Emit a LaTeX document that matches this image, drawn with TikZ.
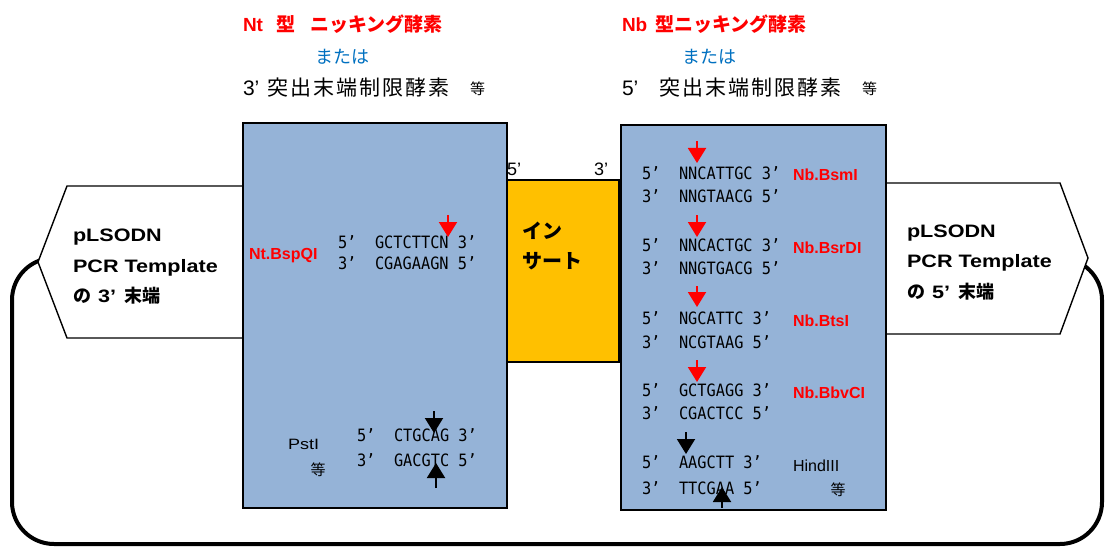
\documentclass[tikz,border=0pt]{standalone}
\usepackage{fontspec}
\setmainfont{Liberation Sans}
\newfontfamily\jp{Noto Sans CJK JP}
\newfontfamily\jpsp[LetterSpace=10]{Noto Sans CJK JP}
\newfontfamily\seqf[FakeStretch=0.9]{DejaVu Sans Mono}
\newfontfamily\wide[FakeStretch=1.2]{Liberation Sans}
\usetikzlibrary{arrows.meta}
\definecolor{boxblue}{RGB}{149,179,215}
\definecolor{insorange}{RGB}{255,192,0}
\definecolor{titleblue}{RGB}{0,112,192}
\newcommand\dnarow[6]{%
  \node[seqtxt] (#1l) at (#2,#3) {#4};
  \node[seqtxt] (#1s) at (#2+37,#3) {#5};
  \node[seqtxt] (#1r) at ([xshift=9.2pt]#1s.base east) {#6};
}
\begin{document}
\begin{tikzpicture}[x=1pt,y=-1pt,
  every node/.style={inner sep=0pt, outer sep=0pt},
  seqtxt/.style={anchor=base west, font=\seqf\fontsize{17}{20}\selectfont},
  enzred/.style={anchor=base west, text=red, font=\bfseries\fontsize{16}{19}\selectfont},
  enzblk/.style={anchor=base west, font=\wide\fontsize{15}{18}\selectfont},
  tosmall/.style={font=\jp\fontsize{15}{18}\selectfont},
  cutmark/.style={line width=2pt, -{Triangle[width=18pt 0,length=15pt 0]}},
  panel/.style={draw, line width=1.6pt, fill=boxblue, anchor=north west},
  pent/.style={draw, line width=1.4pt, fill=white},
  endlab/.style={anchor=base west, font=\wide\bfseries\fontsize{18}{21}\selectfont},
  endjp/.style={anchor=base west, font=\jp\bfseries\fontsize{18}{21}\selectfont},
  redtitle/.style={anchor=base west, text=red, font=\bfseries\fontsize{19}{22}\selectfont},
  redjp/.style={anchor=base west, text=red, font=\jp\bfseries\fontsize{19}{22}\selectfont},
  oretitle/.style={anchor=base west, text=titleblue, font=\jp\fontsize{18}{21}\selectfont},
  blktitle/.style={anchor=base west, font=\jpsp\fontsize{21}{24}\selectfont},
  numtitle/.style={anchor=base west, font=\fontsize{21}{24}\selectfont},
]
\useasboundingbox (0,0) rectangle (1105,548);

% loop (vector backbone)
\draw[line width=4pt, rounded corners=42pt] (12,258) rectangle (1102,544);

% pentagon ends
\draw[pent] (255,186) -- (67,186) -- (38,262) -- (67,338) -- (255,338) -- cycle;
\draw[pent] (875,183) -- (1060,183) -- (1088,258) -- (1060,334) -- (875,334) -- cycle;

% boxes
\node[panel, minimum width=264pt, minimum height=385pt] (lbox) at (243,123) {};
\node[panel, fill=insorange, minimum width=112pt, minimum height=182pt] (ins) at (507,180) {};
\node[panel, minimum width=265pt, minimum height=385pt] (rbox) at (621,125) {};

% titles left
\node[redtitle] (nt) at (243,32) {Nt};
\node[redjp] (ntk) at (276,32) {型};
\node[redjp] (ntn) at (310,32) {ニッキング酵素};
\node[oretitle] (ma1) at (315,64) {または};
\node[numtitle] (t3) at (243,96) {3’};
\node[blktitle] (t3j) at (267,96) {突出末端制限酵素};
\node[tosmall, anchor=base west] (t3t) at (470,95) {等};

% titles right
\node[redtitle] (nb) at (622,32) {Nb};
\node[redjp] (nbk) at (655,32) {型ニッキング酵素};
\node[oretitle] (ma2) at (682,64) {または};
\node[numtitle] (t5) at (622,96) {5’};
\node[blktitle] (t5j) at (659,96) {突出末端制限酵素};
\node[tosmall, anchor=base west] (t5t) at (862,95) {等};

% insert labels
\node[anchor=base west, font=\fontsize{18}{21}\selectfont] (i5) at (507,176) {5’};
\node[anchor=base west, font=\fontsize{18}{21}\selectfont] (i3) at (594,176) {3’};
\node[anchor=base west, font=\jp\bfseries\fontsize{20}{23}\selectfont] (ins1) at (522,238) {イン};
\node[anchor=base west, font=\jp\bfseries\fontsize{20}{23}\selectfont] (ins2) at (522,268) {サート};

% template ends
\node[endlab] (l1) at (73,241) {pLSODN};
\node[endlab] (l2) at (73,272) {PCR Template};
\node[endjp] (l3a) at (73,302) {の};
\node[endlab] (l3b) at (98,302) {3’};
\node[endjp] (l3c) at (124,302) {末端};
\node[endlab] (r1) at (907,237) {pLSODN};
\node[endlab] (r2) at (907,267) {PCR Template};
\node[endjp] (r3a) at (907,298) {の};
\node[endlab] (r3b) at (932,298) {5’};
\node[endjp] (r3c) at (958,298) {末端};

% left panel sequences
\node[enzred] (bsp) at (249,259) {Nt.BspQI};
\dnarow{a}{338}{248}{5’}{GCTCTTCN}{3’}
\dnarow{b}{338}{269}{3’}{CGAGAAGN}{5’}
\node[enzblk] (pst) at (288,449) {PstI};
\node[tosmall] (pstt) at (318,470) {等};
\dnarow{c}{357}{441}{5’}{CTGCAG}{3’}
\dnarow{d}{357}{466}{3’}{GACGTC}{5’}

% right panel sequences
\dnarow{e}{642}{179}{5’}{NNCATTGC}{3’}
\dnarow{f}{642}{203}{3’}{NNGTAACG}{5’}
\node[enzred] (bsm) at (793,181) {Nb.BsmI};
\dnarow{g}{642}{251}{5’}{NNCACTGC}{3’}
\dnarow{h}{642}{274}{3’}{NNGTGACG}{5’}
\node[enzred] (bsr) at (793,253) {Nb.BsrDI};
\dnarow{i}{642}{324}{5’}{NGCATTC}{3’}
\dnarow{j}{642}{348}{3’}{NCGTAAG}{5’}
\node[enzred] (bts) at (793,326) {Nb.BtsI};
\dnarow{k}{642}{396}{5’}{GCTGAGG}{3’}
\dnarow{m}{642}{419}{3’}{CGACTCC}{5’}
\node[enzred] (bbv) at (793,398) {Nb.BbvCI};
\dnarow{n}{642}{468}{5’}{AAGCTT}{3’}
\dnarow{o}{642}{494}{3’}{TTCGAA}{5’}
\node[enzblk, font=\fontsize{16}{19}\selectfont] (hind) at (793,471) {HindIII};
\node[tosmall] (hindt) at (838,490) {等};

% cut marks
\coordinate (c1a) at (448,215); \coordinate (c1b) at (448,237);
\draw[cutmark, red] (c1a) -- (c1b);
\coordinate (c2a) at (434,411); \coordinate (c2b) at (434,433);
\draw[cutmark] (c2a) -- (c2b);
\coordinate (c3a) at (436,488); \coordinate (c3b) at (436,463);
\draw[cutmark] (c3a) -- (c3b);
\foreach \ya/\yb [count=\k] in {141/163, 215/237, 286/307, 360/382}{
  \coordinate (rc\k a) at (697,\ya); \coordinate (rc\k b) at (697,\yb);
  \draw[cutmark, red] (rc\k a) -- (rc\k b);
}
\coordinate (c4a) at (686,432); \coordinate (c4b) at (686,454);
\draw[cutmark] (c4a) -- (c4b);
\coordinate (c5a) at (722,508); \coordinate (c5b) at (722,487);
\draw[cutmark] (c5a) -- (c5b);
\end{tikzpicture}
\end{document}
